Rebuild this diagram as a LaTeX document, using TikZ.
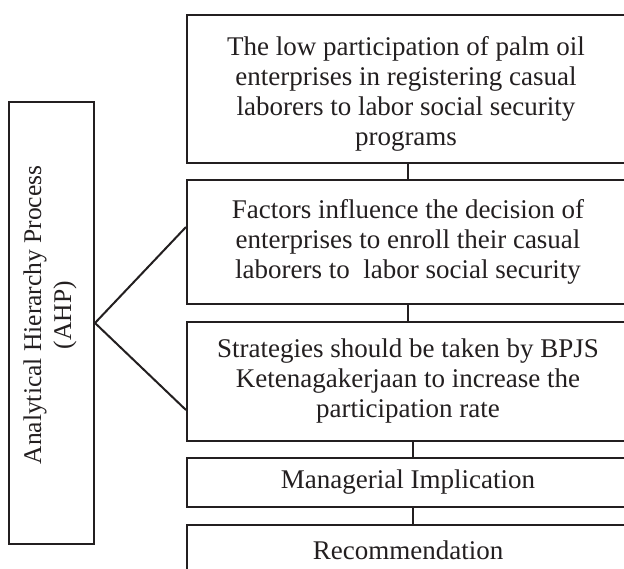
\documentclass[tikz,border=0pt]{standalone}
\usepackage{fontspec}
\setmainfont{Liberation Serif}
\definecolor{ink}{RGB}{35,31,32}
\tikzset{
  box/.style={draw=ink, line width=2pt, inner sep=0pt, minimum width=442pt, align=center, text=ink,
    font=\fontsize{27}{30}\selectfont},
  label text/.style={align=center, text=ink, inner sep=0pt, font=\fontsize{27}{30}\selectfont},
  conn/.style={draw=ink, line width=2pt}
}
\begin{document}
\begin{tikzpicture}[x=1pt, y=-1pt]
\useasboundingbox (0,0) rectangle (624,568);
\fill[white] (0,0) rectangle (624,568);
\clip (0,0) rectangle (624,568);
\node[box, minimum height=148pt] (b1) at (408,89) {};
\node[label text] (t1) at (406,94) {The low participation of palm oil\\enterprises in registering casual\\laborers to labor social security\\programs};
\node[box, minimum height=124pt] (b2) at (408,242) {Factors influence the decision of\\enterprises to enroll their casual\\laborers to\ \ labor social security};
\node[box, minimum height=119pt] (b3) at (408,381.5) {Strategies should be taken by BPJS\\Ketenagakerjaan to increase the\\participation rate};
\node[box, minimum height=49pt] (b4) at (408,482.5) {Managerial Implication};
\node[box, minimum height=50pt] (b5) at (408,550) {Recommendation};
\node[draw=ink, line width=2pt, inner sep=0pt, minimum width=85pt, minimum height=442pt] (ahp) at (51.5,323) {};
\node[rotate=90, align=center, text=ink, font=\fontsize{25.5}{30}\selectfont] (ahptext) at (50,315) {Analytical Hierarchy Process\\(AHP)};
\coordinate (v) at (ahp.east);
\draw[conn] (b1.south) -- (b2.north);
\draw[conn] (b2.south) -- (b3.north);
\draw[conn] ([xshift=5pt]b3.south) -- ([xshift=5pt]b4.north);
\draw[conn] ([xshift=5pt]b4.south) -- ([xshift=5pt]b5.north);
\draw[conn] (v) -- (b2.west |- 0,227);
\draw[conn] (v) -- (b3.west |- 0,410);
\end{tikzpicture}
\end{document}
